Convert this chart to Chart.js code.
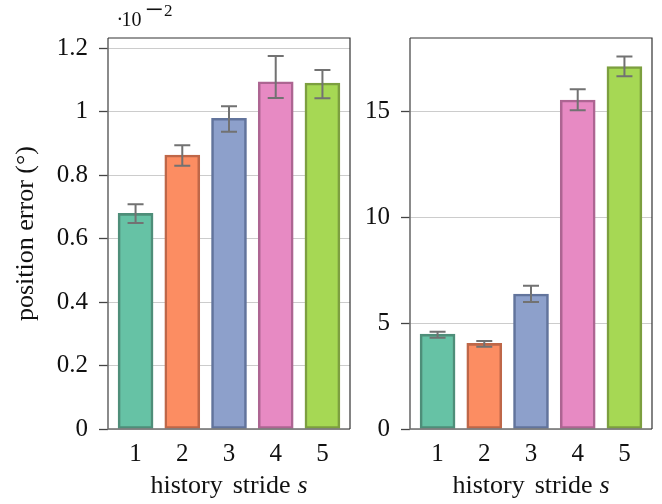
<!DOCTYPE html>
<html>
<head>
<meta charset="utf-8">
<script src="https://cdn.jsdelivr.net/npm/chart.js@4/dist/chart.umd.min.js"></script>
<style>
  body { margin: 0; background: #fff; }
  #wrap { position: relative; width: 662px; height: 504px; }
  canvas { position: absolute; top: 0; }
</style>
</head>
<body>
<div id="wrap">
  <canvas id="leftChart" width="360" height="504" style="left:0"></canvas>
  <canvas id="rightChart" width="302" height="504" style="left:360px"></canvas>
</div>
<script>
const strides = [1, 2, 3, 4, 5];

// left panel, values in units of 1e-2 degrees
const leftMean = [0.680, 0.864, 0.980, 1.095, 1.091];
const leftLow = [0.650, 0.830, 0.937, 1.044, 1.043];
const leftHigh = [0.709, 0.895, 1.018, 1.176, 1.132];
const leftTicks = [0, 0.2, 0.4, 0.6, 0.8, 1, 1.2];

// right panel
const rightMean = [4.48, 4.04, 6.37, 15.53, 17.11];
const rightLow = [4.31, 3.88, 6.00, 15.05, 16.65];
const rightHigh = [4.59, 4.15, 6.76, 16.04, 17.59];
const rightTicks = [0, 5, 10, 15];

const fills = ["#66c2a5", "#fc8d62", "#8da0cb", "#e78ac3", "#a6d854"];
const edges = ["#4e8e79", "#bf6748", "#62749c", "#ad6592", "#7c9f3f"];

const serif = "'Liberation Serif', 'Times New Roman', serif";

function makePanel(id, means, lows, highs, yMax, yTicks, opts) {
  const errorBars = {
    id: "errorBars",
    afterDatasetsDraw(chart) {
      const { ctx, scales: { x, y } } = chart;
      ctx.save();
      ctx.strokeStyle = "#727272";
      ctx.lineWidth = 2;
      strides.forEach((s, i) => {
        const px = x.getPixelForValue(s);
        const top = y.getPixelForValue(highs[i]);
        const bot = y.getPixelForValue(lows[i]);
        ctx.beginPath();
        ctx.moveTo(px, top); ctx.lineTo(px, bot);
        ctx.moveTo(px - 8, top); ctx.lineTo(px + 8, top);
        ctx.moveTo(px - 8, bot); ctx.lineTo(px + 8, bot);
        ctx.stroke();
      });
      ctx.restore();
    }
  };

  const frame = {
    id: "frame",
    afterDraw(chart) {
      const { ctx, chartArea: a } = chart;
      ctx.save();
      // left and bottom axis lines
      ctx.strokeStyle = "#6e6e6e";
      ctx.lineWidth = 1.6;
      ctx.beginPath();
      ctx.moveTo(a.left, a.top); ctx.lineTo(a.left, a.bottom); ctx.lineTo(a.right, a.bottom);
      ctx.stroke();
      // top and right
      ctx.strokeStyle = "#333";
      ctx.lineWidth = 1.2;
      ctx.beginPath();
      ctx.moveTo(a.left, a.top); ctx.lineTo(a.right, a.top); ctx.lineTo(a.right, a.bottom);
      ctx.stroke();

      // x axis title, word by word, with an italic s
      ctx.fillStyle = "#111";
      ctx.textBaseline = "alphabetic";
      ctx.textAlign = "left";
      const normal = "26px " + serif;
      const italic = "italic 26px " + serif;
      const parts = [
        { t: "history", f: normal, gap: 10 },
        { t: "stride", f: normal, gap: 7 },
        { t: "s", f: italic, gap: 0 }
      ];
      let total = 0;
      parts.forEach(p => { ctx.font = p.f; p.w = ctx.measureText(p.t).width; total += p.w + p.gap; });
      let x0 = (a.left + a.right) / 2 - total / 2;
      parts.forEach(p => { ctx.font = p.f; ctx.fillText(p.t, x0, 493); x0 += p.w + p.gap; });

      if (opts.exponent) {
        ctx.font = "20px " + serif;
        ctx.fillText("\u00b7", 116.5, 26);
        ctx.fillText("10", 121.5, 26);
        ctx.font = "32px " + serif;
        ctx.fillText("\u2212", 145, 19.5);
        ctx.font = "17px " + serif;
        ctx.fillText("2", 164, 15.5);
      }
      ctx.restore();
    }
  };

  new Chart(document.getElementById(id), {
    type: "bar",
    data: {
      datasets: [{
        data: strides.map((s, i) => ({ x: s, y: means[i] })),
        backgroundColor: fills,
        borderColor: edges,
        borderWidth: 2.6,
        borderSkipped: false,
        barThickness: 35
      }]
    },
    options: {
      responsive: false,
      animation: false,
      layout: { padding: { top: 38, right: 10, left: 0, bottom: 0 } },
      plugins: { legend: { display: false }, tooltip: { enabled: false } },
      scales: {
        x: {
          type: "linear",
          min: 0.41,
          max: 5.59,
          offset: false,
          afterBuildTicks: scale => { scale.ticks = strides.map(v => ({ value: v })); },
          afterFit: scale => { scale.height = 75; },
          grid: { display: false, drawTicks: false, offset: false },
          border: { display: false },
          ticks: {
            padding: 10,
            color: "#111",
            font: { family: serif, size: 25 },
            callback: v => String(v)
          }
        },
        y: {
          min: 0,
          max: yMax,
          afterBuildTicks: scale => { scale.ticks = yTicks.map(v => ({ value: v })); },
          afterFit: scale => { scale.width = opts.yWidth; },
          grid: {
            color: "#cccccc",
            lineWidth: 1,
            drawTicks: true,
            tickLength: 9,
            tickColor: "#444",
            tickWidth: 1.3
          },
          border: { display: false },
          ticks: {
            padding: 11,
            color: "#111",
            font: { family: serif, size: 25 },
            callback: v => String(Number(v.toFixed(2)))
          },
          title: {
            display: !!opts.yTitle,
            text: opts.yTitle || "",
            color: "#111",
            font: { family: serif, size: 26 },
            padding: { top: 11, bottom: 0 }
          }
        }
      }
    },
    plugins: [errorBars, frame]
  });
}

makePanel("leftChart", leftMean, leftLow, leftHigh, 1.233, leftTicks,
  { yWidth: 108, yTitle: "position error (\u00b0)", exponent: true });
makePanel("rightChart", rightMean, rightLow, rightHigh, 18.46, rightTicks,
  { yWidth: 50 });
</script>
</body>
</html>
